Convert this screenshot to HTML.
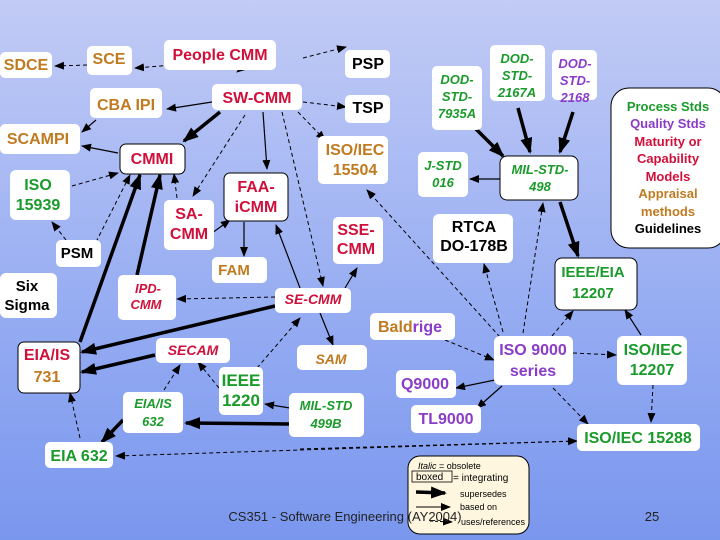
<!DOCTYPE html>
<html><head><meta charset="utf-8"><style>
html,body{margin:0;padding:0;width:720px;height:540px;overflow:hidden}
body{background:linear-gradient(#c2cbf5,#94abf2 60%,#7a97ee)}
svg{position:absolute;left:0;top:0}
text{font-family:"Liberation Sans",sans-serif;font-weight:bold;text-anchor:middle}
.r{fill:#d0103a}.o{fill:#c07a20}.g{fill:#1a9a2a}.p{fill:#8a3cc8}.k{fill:#000}
.i{font-style:italic}
.b{fill:#fff}
.bx{fill:#fff;stroke:#000;stroke-width:1}
.d{stroke:#000;stroke-width:1;stroke-dasharray:4 3;fill:none;marker-end:url(#a)}
.t{stroke:#000;stroke-width:1.2;fill:none;marker-end:url(#a)}
.T{stroke:#000;stroke-width:3.5;fill:none;marker-end:url(#A)}
</style></head><body>
<svg width="720" height="540" viewBox="0 0 720 540">
<defs>
<marker id="a" markerWidth="10" markerHeight="8" refX="9" refY="4" orient="auto" markerUnits="userSpaceOnUse"><path d="M0,0 L10,4 L0,8 Z"/></marker>
<marker id="A" markerWidth="16" markerHeight="12" refX="14" refY="6" orient="auto" markerUnits="userSpaceOnUse"><path d="M0,0 L16,6 L0,12 Z"/></marker>
</defs>
<g>
<path class="d" d="M212,62 L135,68"/>
<path class="d" d="M87,65 L55,66"/>
<path class="d" d="M255,58 L237,72"/>
<path class="d" d="M303,58 L346,47"/>
<path class="d" d="M303,102 L346,107"/>
<path class="t" d="M212,102 L167,109"/>
<path class="T" d="M220,112 L184,141"/>
<path class="d" d="M298,112 L325,140"/>
<path class="d" d="M245,115 L193,196"/>
<path class="t" d="M263,112 L267,169"/>
<path class="d" d="M282,112 L323,286"/>
<path class="t" d="M96,120 L82,132"/>
<path class="t" d="M118,153 L82,146"/>
<path class="d" d="M72,186 L118,173"/>
<path class="d" d="M66,240 L52,222"/>
<path class="d" d="M96,242 L130,175"/>
<path class="T" d="M80,342 L140,175"/>
<path class="T" d="M137,275 L160,175"/>
<path class="d" d="M177,198 L174,174"/>
<path class="t" d="M212,233 L230,220"/>
<path class="t" d="M244,222 L244,256"/>
<path class="t" d="M300,288 L276,225"/>
<path class="t" d="M345,288 L357,268"/>
<path class="d" d="M275,297 L177,299"/>
<path class="T" d="M275,306 L82,352"/>
<path class="t" d="M320,313 L333,345"/>
<path class="T" d="M155,355 L82,372"/>
<path class="d" d="M257,368 L300,318"/>
<path class="d" d="M219,388 L198,362"/>
<path class="d" d="M164,390 L180,365"/>
<path class="T" d="M123,420 L102,442"/>
<path class="d" d="M80,438 L70,393"/>
<path class="t" d="M290,408 L265,404"/>
<path class="T" d="M289,424 L186,423"/>
<path class="d" d="M577,441 L116,456"/>
<path class="d" d="M300,449 L577,441"/>
<path class="T" d="M475,128 L503,156"/>
<path class="T" d="M518,108 L530,152"/>
<path class="T" d="M573,112 L560,152"/>
<path class="t" d="M500,179 L470,179"/>
<path class="T" d="M560,202 L578,256"/>
<path class="d" d="M523,333 L543,203"/>
<path class="d" d="M503,332 L484,264"/>
<path class="d" d="M500,337 L367,190"/>
<path class="d" d="M445,340 L494,360"/>
<path class="t" d="M495,380 L456,388"/>
<path class="t" d="M502,386 L477,408"/>
<path class="d" d="M552,336 L573,311"/>
<path class="d" d="M573,353 L616,355"/>
<path class="d" d="M553,388 L588,424"/>
<path class="t" d="M641,335 L625,310"/>
<path class="d" d="M653,385 L651,422"/>
</g>
<rect class="b" x="0" y="52" width="52" height="26" rx="5"/><text class="o" x="26" y="70" font-size="16">SDCE</text>
<rect class="b" x="87" y="46" width="45" height="29" rx="5"/><text class="o" x="109" y="64" font-size="16">SCE</text>
<rect class="b" x="164" y="40" width="112" height="30" rx="5"/><text class="r" x="220" y="60" font-size="16">People CMM</text>
<rect class="b" x="345" y="50" width="45" height="28" rx="5"/><text class="k" x="368" y="69" font-size="16">PSP</text>
<rect class="b" x="212" y="84" width="90" height="26" rx="5"/><text class="r" x="257" y="103" font-size="16">SW-CMM</text>
<rect class="b" x="345" y="95" width="45" height="28" rx="5"/><text class="k" x="368" y="113" font-size="16">TSP</text>
<rect class="b" x="90" y="88" width="72" height="30" rx="5"/><text class="o" x="126" y="110" font-size="16">CBA IPI</text>
<rect class="b" x="0" y="124" width="80" height="30" rx="5"/><text class="o" x="38" y="144" font-size="16">SCAMPI</text>
<rect class="bx" x="120" y="144" width="65" height="30" rx="6"/><text class="r" x="152" y="164" font-size="16">CMMI</text>
<rect class="b" x="318" y="136" width="70" height="48" rx="5"/><text class="o" x="355" y="155" font-size="16">ISO/IEC</text><text class="o" x="355" y="175" font-size="16">15504</text>
<rect class="b" x="432" y="66" width="50" height="64" rx="5"/><text class="g i" x="457" y="84" font-size="13">DOD-</text><text class="g i" x="457" y="101" font-size="13">STD-</text><text class="g i" x="457" y="118" font-size="13">7935A</text>
<rect class="b" x="490" y="45" width="55" height="56" rx="5"/><text class="g i" x="517" y="63" font-size="13">DOD-</text><text class="g i" x="517" y="80" font-size="13">STD-</text><text class="g i" x="517" y="97" font-size="13">2167A</text>
<rect class="b" x="552" y="50" width="45" height="50" rx="5"/><text class="p i" x="575" y="68" font-size="13">DOD-</text><text class="p i" x="575" y="85" font-size="13">STD-</text><text class="p i" x="575" y="102" font-size="13">2168</text>
<rect class="bx" x="611" y="88" width="115" height="160" rx="18"/>
<g font-size="13"><text class="g" x="668" y="111">Process Stds</text><text class="p" x="668" y="128">Quality Stds</text><text class="r" x="668" y="146">Maturity or</text><text class="r" x="668" y="163">Capability</text><text class="r" x="668" y="181">Models</text><text class="o" x="668" y="198">Appraisal</text><text class="o" x="668" y="216">methods</text><text class="k" x="668" y="233">Guidelines</text></g>
<rect class="b" x="418" y="152" width="50" height="45" rx="5"/><text class="g i" x="443" y="170" font-size="13">J-STD</text><text class="g i" x="443" y="187" font-size="13">016</text>
<rect class="bx" x="500" y="156" width="78" height="44" rx="7"/><text class="g i" x="540" y="174" font-size="13">MIL-STD-</text><text class="g i" x="540" y="191" font-size="13">498</text>
<rect class="b" x="10" y="170" width="60" height="50" rx="6"/><text class="g" x="38" y="190" font-size="16">ISO</text><text class="g" x="38" y="210" font-size="16">15939</text>
<rect class="b" x="164" y="200" width="50" height="50" rx="5"/><text class="r" x="189" y="219" font-size="16">SA-</text><text class="r" x="189" y="239" font-size="16">CMM</text>
<rect class="bx" x="224" y="173" width="64" height="48" rx="6"/><text class="r" x="256" y="192" font-size="16">FAA-</text><text class="r" x="256" y="212" font-size="16">iCMM</text>
<rect class="b" x="333" y="217" width="50" height="47" rx="5"/><text class="r" x="356" y="235" font-size="16">SSE-</text><text class="r" x="356" y="254" font-size="16">CMM</text>
<rect class="b" x="433" y="214" width="80" height="49" rx="6"/><text class="k" x="474" y="232" font-size="16" font-weight="normal">RTCA</text><text class="k" x="474" y="251" font-size="16" font-weight="normal">DO-178B</text>
<rect class="b" x="56" y="240" width="45" height="27" rx="5"/><text class="k" x="77" y="258" font-size="15">PSM</text>
<rect class="b" x="212" y="257" width="55" height="26" rx="5"/><text class="o" x="234" y="275" font-size="15">FAM</text>
<rect class="bx" x="555" y="258" width="82" height="52" rx="7"/><text class="g" x="593" y="277" font-size="15">IEEE/EIA</text><text class="g" x="593" y="298" font-size="15">12207</text>
<rect class="b" x="0" y="273" width="57" height="45" rx="6"/><text class="k" x="27" y="291" font-size="15">Six</text><text class="k" x="27" y="310" font-size="15">Sigma</text>
<rect class="b" x="118" y="275" width="58" height="45" rx="5"/><text class="r i" x="148" y="293" font-size="13">IPD-</text><text class="r i" x="146" y="309" font-size="13">CMM</text>
<rect class="b" x="275" y="288" width="76" height="25" rx="5"/><text class="r i" x="313" y="304" font-size="14">SE-CMM</text>
<rect class="b" x="370" y="313" width="85" height="27" rx="5"/><text x="410" y="332" font-size="16"><tspan class="o">Bald</tspan><tspan class="p">rige</tspan></text>
<rect class="bx" x="18" y="342" width="62" height="51" rx="6"/><text class="r" x="47" y="360" font-size="16">EIA/IS</text><text class="o" x="47" y="382" font-size="16">731</text>
<rect class="b" x="156" y="338" width="74" height="25" rx="5"/><text class="r i" x="193" y="355" font-size="14">SECAM</text>
<rect class="b" x="297" y="345" width="70" height="25" rx="5"/><text class="o i" x="331" y="364" font-size="14">SAM</text>
<rect class="b" x="494" y="336" width="79" height="49" rx="6"/><text class="p" x="533" y="355" font-size="16">ISO 9000</text><text class="p" x="533" y="376" font-size="16">series</text>
<rect class="b" x="617" y="336" width="70" height="49" rx="6"/><text class="g" x="653" y="355" font-size="16">ISO/IEC</text><text class="g" x="652" y="375" font-size="16">12207</text>
<rect class="b" x="396" y="370" width="60" height="28" rx="5"/><text class="p" x="425" y="389" font-size="16">Q9000</text>
<rect class="b" x="219" y="367" width="44" height="48" rx="5"/><text class="g" x="241" y="386" font-size="17">IEEE</text><text class="g" x="241" y="406" font-size="17">1220</text>
<rect class="b" x="123" y="392" width="60" height="41" rx="5"/><text class="g i" x="153" y="408" font-size="13">EIA/IS</text><text class="g i" x="153" y="426" font-size="13">632</text>
<rect class="b" x="289" y="393" width="75" height="44" rx="5"/><text class="g i" x="326" y="410" font-size="13">MIL-STD</text><text class="g i" x="326" y="428" font-size="13">499B</text>
<rect class="b" x="411" y="405" width="70" height="28" rx="5"/><text class="p" x="446" y="424" font-size="16">TL9000</text>
<rect class="b" x="577" y="424" width="123" height="27" rx="5"/><text class="g" x="638" y="443" font-size="16">ISO/IEC 15288</text>
<rect class="b" x="45" y="442" width="68" height="26" rx="5"/><text class="g" x="79" y="461" font-size="16">EIA 632</text>
<rect x="408" y="456" width="121" height="78" rx="12" fill="#fff6e0" stroke="#000" stroke-width="1"/>
<g>
<text x="418" y="469" font-size="9" style="text-anchor:start;font-weight:normal"><tspan font-style="italic">Italic</tspan> = obsolete</text>
<rect x="412" y="471" width="40" height="11" fill="none" stroke="#000" stroke-width="0.8"/>
<text x="416" y="480" font-size="10" style="text-anchor:start;font-weight:normal">boxed</text>
<text x="453" y="481" font-size="10" style="text-anchor:start;font-weight:normal">= integrating</text>
<path d="M416,492 L445,493" stroke="#000" stroke-width="3.5" marker-end="url(#A)"/>
<text x="460" y="497" font-size="9" style="text-anchor:start;font-weight:normal">supersedes</text>
<path d="M416,507 L450,507" stroke="#000" stroke-width="1" marker-end="url(#a)"/>
<text x="460" y="510" font-size="9" style="text-anchor:start;font-weight:normal">based on</text>
<path d="M430,521 L452,522" stroke="#000" stroke-width="1" stroke-dasharray="3 2" marker-end="url(#a)"/>
<text x="461" y="525" font-size="9" style="text-anchor:start;font-weight:normal">uses/references</text>
</g>
<text x="345" y="521" font-size="13" fill="#222" style="font-weight:normal">CS351 - Software Engineering (AY2004)</text>
<text x="652" y="521" font-size="13" fill="#222" style="font-weight:normal">25</text>
</svg>
</body></html>
